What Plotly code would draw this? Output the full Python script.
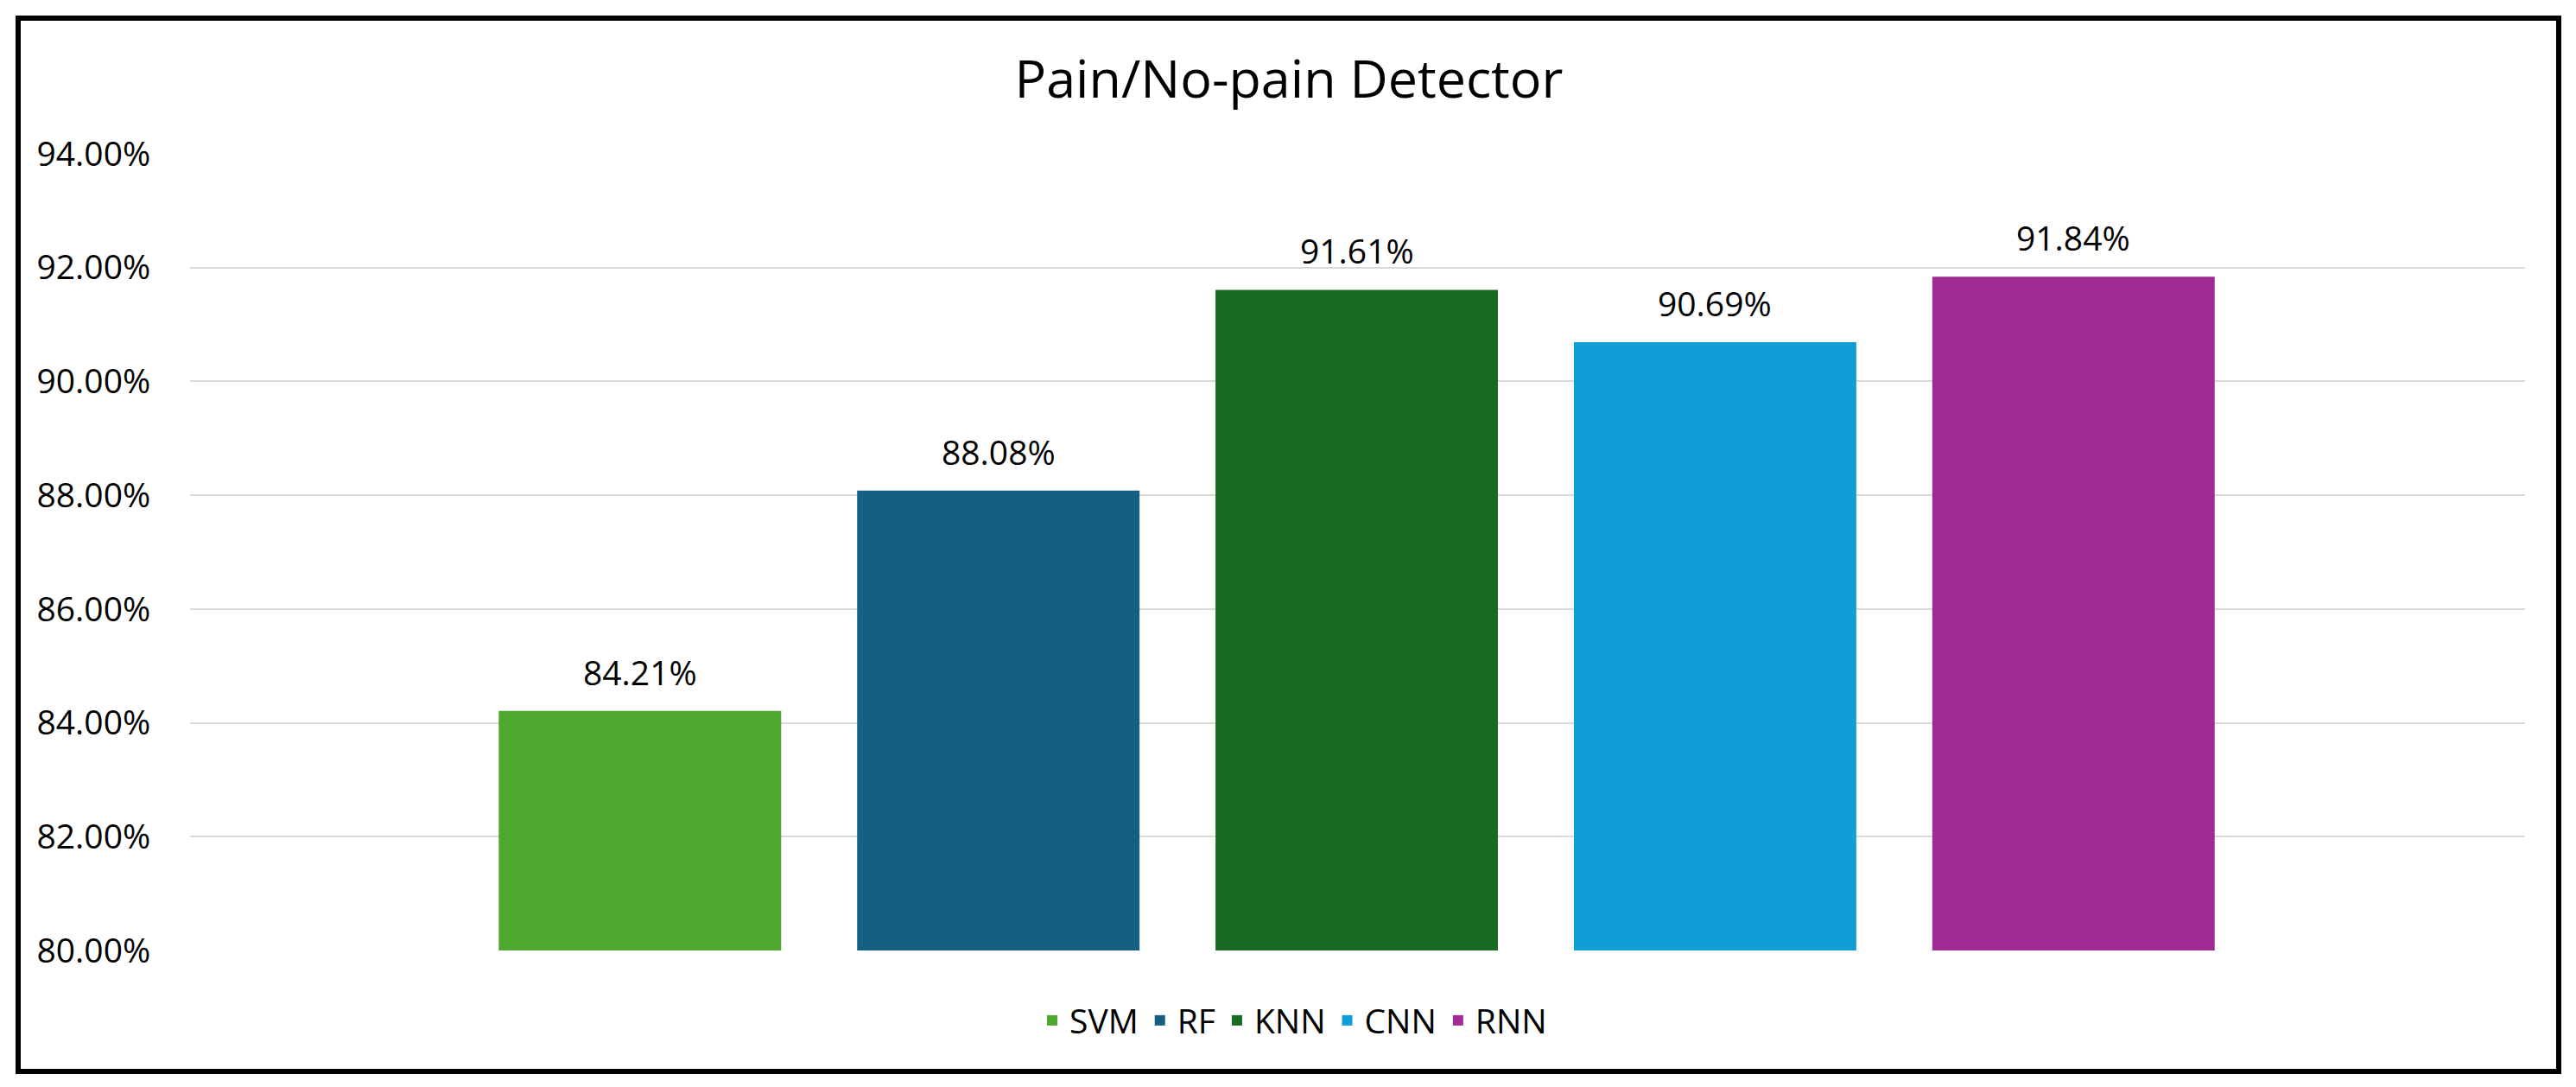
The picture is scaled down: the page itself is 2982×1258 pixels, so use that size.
import plotly.graph_objects as go

categories = ["SVM", "RF", "KNN", "CNN", "RNN"]
accuracy = [84.21, 88.08, 91.61, 90.69, 91.84]
colors = ["#4EA72E", "#156082", "#196B24", "#0F9ED5", "#A02B93"]
y_ticks = [80, 82, 84, 86, 88, 90, 92, 94]
y_tick_labels = [f"{v:.2f}%" for v in y_ticks]
title_text = "Pain/No-pain Detector"

FONT = "Open Sans"
W, H = 2982, 1258
OFF = 8  # page body offset in the screenshot
# target screen positions of the plot area
PX0, PX1, PY0, PY1 = 220, 2923, 178, 1100
L = PX0 - OFF
T = PY0 - OFF
R = W - (PX1 - OFF)
B = H - (PY1 - OFF)

fig = go.Figure()
for cat, val, col in zip(categories, accuracy, colors):
    fig.add_trace(go.Bar(x=[cat], y=[val], name=cat, marker=dict(color=col, line=dict(width=0)),
                         hoverinfo="x+y"))

annotations = []
for cat, val in zip(categories, accuracy):
    annotations.append(dict(x=cat, y=val, xref="x", yref="y", text=f"{val:.2f}%",
                            showarrow=False, yanchor="bottom", yshift=17,
                            font=dict(family=FONT, size=39, color="#000000")))

pw = PX1 - PX0
ph = PY1 - PY0
def px_x(p):
    return (p - PX0) / pw
def px_y(p):
    return (PY1 - p) / ph

fig.update_layout(
    width=W, height=H,
    margin=dict(l=L, r=R, t=T, b=B, pad=0),
    paper_bgcolor="white", plot_bgcolor="white",
    barmode="overlay", bargap=0.212,
    title=dict(text=title_text, x=(1492 - OFF) / W, xref="container", xanchor="center",
               y=1 - (92 - OFF) / H, yref="container", yanchor="middle",
               font=dict(family=FONT, size=61, color="#000000")),
    xaxis=dict(type="category", categoryorder="array", categoryarray=categories,
               range=[-1.2554, 5.260], showticklabels=False, showgrid=False,
               zeroline=False, showline=False, ticks=""),
    yaxis=dict(range=[80, 94], tickmode="array", tickvals=y_ticks, ticktext=y_tick_labels,
               showgrid=True, gridcolor="#D9D9D9", gridwidth=2, zeroline=False,
               showline=False, ticks="outside", ticklen=37, tickcolor="rgba(0,0,0,0)",
               tickfont=dict(family=FONT, size=39, color="#000000")),
    legend=dict(orientation="h", x=px_x(1497), xanchor="center", y=px_y(1181), yanchor="middle",
                font=dict(family=FONT, size=39, color="#000000"), bgcolor="rgba(0,0,0,0)"),
    annotations=annotations,
    shapes=[dict(type="rect", xref="paper", yref="paper",
                 x0=px_x(21), x1=px_x(2962), y0=px_y(1240), y1=px_y(21),
                 line=dict(color="#000000", width=6), fillcolor="rgba(0,0,0,0)", layer="above")],
    showlegend=True,
)

fig.write_html("out.html")
